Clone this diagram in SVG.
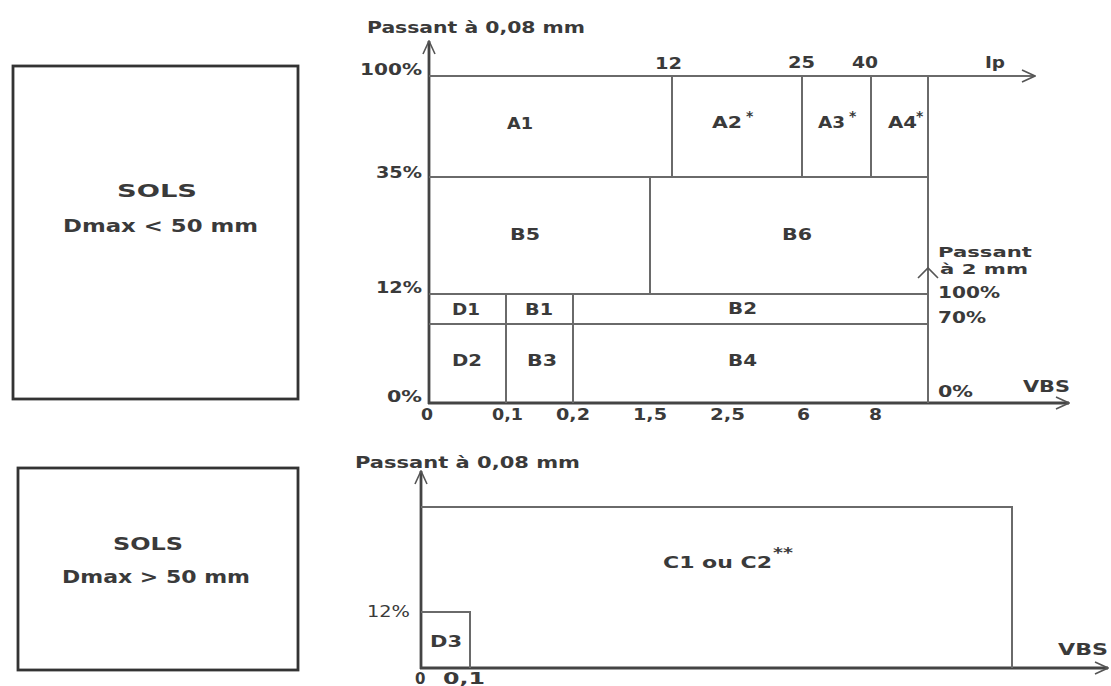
<svg xmlns="http://www.w3.org/2000/svg" width="1111" height="686" viewBox="0 0 1111 686">
<defs>
<marker id="arr" viewBox="0 0 16 16" refX="15" refY="8" markerWidth="16" markerHeight="16" markerUnits="userSpaceOnUse" orient="auto">
<polyline points="2,2 15,8 2,14" fill="none" stroke="#555" stroke-width="1.6"/>
</marker>
</defs>
<style>
text{font-family:"DejaVu Sans",Verdana,sans-serif;font-weight:bold;font-size:16px;fill:#3a3a3a}
.m{text-anchor:middle}
.st{font-size:14px}
.sm{font-size:14px}
.bt{font-size:15px}
.bx{font-size:18px}
.ax{stroke:#444;stroke-width:2.8;fill:none}
.ln{stroke:#6a6a6a;stroke-width:2;fill:none}
.box{stroke:#333;stroke-width:2.8;fill:#fff}
</style>
<rect width="1111" height="686" fill="#fff"/>

<g id="sols-lt50">
<rect class="box" x="13" y="66" width="285" height="333"/>
<text class="bx" x="117" y="197" textLength="80" lengthAdjust="spacingAndGlyphs">SOLS</text>
<text class="bx" x="63" y="232" textLength="195" lengthAdjust="spacingAndGlyphs">Dmax &lt; 50 mm</text>
</g>
<g id="sols-gt50">
<rect class="box" x="18" y="468" width="280" height="202"/>
<text class="bx" x="113" y="550" textLength="70" lengthAdjust="spacingAndGlyphs" style="font-size:17px">SOLS</text>
<text class="bx" x="62" y="583" textLength="188" lengthAdjust="spacingAndGlyphs" style="font-size:17px">Dmax &gt; 50 mm</text>
</g>

<g id="connectors">
<line class="ax" x1="429" y1="404" x2="429" y2="41" marker-end="url(#arr)"/>
<line class="ax" x1="428" y1="403" x2="1069" y2="403" marker-end="url(#arr)"/>
<line class="ln" x1="429" y1="76" x2="1035" y2="76" marker-end="url(#arr)"/>
<line class="ln" x1="928" y1="76" x2="928" y2="403"/>
<polyline points="918,278 928,268 938,278" fill="none" stroke="#555" stroke-width="1.6"/>
<line class="ax" x1="421" y1="669" x2="421" y2="471" marker-end="url(#arr)"/>
<line class="ax" x1="420" y1="668" x2="1108" y2="668" marker-end="url(#arr)"/>
</g>

<g id="top-labels">
<text x="367" y="33" textLength="218" lengthAdjust="spacingAndGlyphs">Passant à 0,08 mm</text>
<text x="360" y="75" textLength="62" lengthAdjust="spacingAndGlyphs">100%</text>
<text x="376" y="178" textLength="46" lengthAdjust="spacingAndGlyphs">35%</text>
<text x="376" y="293" textLength="46" lengthAdjust="spacingAndGlyphs">12%</text>
<text x="387" y="402" textLength="35" lengthAdjust="spacingAndGlyphs">0%</text>
<text x="655" y="69" textLength="27" lengthAdjust="spacingAndGlyphs">12</text>
<text x="788" y="68" textLength="27" lengthAdjust="spacingAndGlyphs">25</text>
<text x="852" y="68" textLength="26" lengthAdjust="spacingAndGlyphs">40</text>
<text x="985" y="68" textLength="20" lengthAdjust="spacingAndGlyphs">Ip</text>
<text class="sm" x="938" y="257" textLength="94" lengthAdjust="spacingAndGlyphs">Passant</text>
<text class="sm" x="940" y="274" textLength="88" lengthAdjust="spacingAndGlyphs">à 2 mm</text>
<text x="938" y="298" textLength="62" lengthAdjust="spacingAndGlyphs">100%</text>
<text x="938" y="323" textLength="48" lengthAdjust="spacingAndGlyphs">70%</text>
<text x="938" y="397" textLength="35" lengthAdjust="spacingAndGlyphs">0%</text>
<text x="1023" y="392" textLength="47" lengthAdjust="spacingAndGlyphs">VBS</text>
<text x="421" y="420" textLength="12" lengthAdjust="spacingAndGlyphs">0</text>
<text x="492" y="420" textLength="31" lengthAdjust="spacingAndGlyphs">0,1</text>
<text x="556" y="420" textLength="34" lengthAdjust="spacingAndGlyphs">0,2</text>
<text x="633" y="420" textLength="34" lengthAdjust="spacingAndGlyphs">1,5</text>
<text x="710" y="420" textLength="35" lengthAdjust="spacingAndGlyphs">2,5</text>
<text x="797" y="420" textLength="13" lengthAdjust="spacingAndGlyphs">6</text>
<text x="869" y="420" textLength="13" lengthAdjust="spacingAndGlyphs">8</text>
</g>

<g id="A1"><line class="ln" x1="429" y1="177" x2="672" y2="177"/><text x="507" y="129" textLength="26" lengthAdjust="spacingAndGlyphs">A1</text></g>
<g id="A2"><line class="ln" x1="672" y1="76" x2="672" y2="177"/><line class="ln" x1="672" y1="177" x2="802" y2="177"/><text x="712" y="128" textLength="30" lengthAdjust="spacingAndGlyphs">A2</text><text class="st" x="746" y="121">*</text></g>
<g id="A3"><line class="ln" x1="802" y1="76" x2="802" y2="177"/><line class="ln" x1="802" y1="177" x2="871" y2="177"/><text x="818" y="128" textLength="27" lengthAdjust="spacingAndGlyphs">A3</text><text class="st" x="849" y="121">*</text></g>
<g id="A4"><line class="ln" x1="871" y1="76" x2="871" y2="177"/><line class="ln" x1="871" y1="177" x2="928" y2="177"/><text x="888" y="128" textLength="29" lengthAdjust="spacingAndGlyphs">A4</text><text class="st" x="916" y="121">*</text></g>
<g id="B5"><line class="ln" x1="429" y1="294" x2="650" y2="294"/><text x="510" y="240" textLength="30" lengthAdjust="spacingAndGlyphs">B5</text></g>
<g id="B6"><line class="ln" x1="650" y1="177" x2="650" y2="294"/><line class="ln" x1="650" y1="294" x2="928" y2="294"/><text x="782" y="240" textLength="30" lengthAdjust="spacingAndGlyphs">B6</text></g>
<g id="D1"><line class="ln" x1="429" y1="324" x2="506" y2="324"/><text x="452" y="315" textLength="28" lengthAdjust="spacingAndGlyphs">D1</text></g>
<g id="B1"><line class="ln" x1="506" y1="294" x2="506" y2="403"/><line class="ln" x1="506" y1="324" x2="573" y2="324"/><text x="525" y="315" textLength="28" lengthAdjust="spacingAndGlyphs">B1</text></g>
<g id="B2"><line class="ln" x1="573" y1="294" x2="573" y2="403"/><line class="ln" x1="573" y1="324" x2="928" y2="324"/><text x="728" y="314" textLength="29" lengthAdjust="spacingAndGlyphs">B2</text></g>
<g id="D2"><text x="452" y="366" textLength="30" lengthAdjust="spacingAndGlyphs">D2</text></g>
<g id="B3"><text x="527" y="366" textLength="30" lengthAdjust="spacingAndGlyphs">B3</text></g>
<g id="B4"><text x="728" y="366" textLength="29" lengthAdjust="spacingAndGlyphs">B4</text></g>

<g id="bottom-labels">
<text x="355" y="468" textLength="225" lengthAdjust="spacingAndGlyphs">Passant à 0,08 mm</text>
<text x="367" y="617" textLength="43" lengthAdjust="spacingAndGlyphs" style="font-weight:normal">12%</text>
<text x="1058" y="655" textLength="50" lengthAdjust="spacingAndGlyphs">VBS</text>
<text class="bt" x="415" y="684">0</text>
<text class="bt" x="443" y="684" textLength="42" lengthAdjust="spacingAndGlyphs">0,1</text>
</g>
<g id="C1C2"><polyline class="ln" points="421,507 1012,507 1012,668"/><text x="663" y="568" textLength="109" lengthAdjust="spacingAndGlyphs">C1 ou C2</text><text class="st" x="773" y="557" textLength="20" lengthAdjust="spacingAndGlyphs">**</text></g>
<g id="D3"><polyline class="ln" points="421,612 470,612 470,668"/><text x="430" y="647" textLength="32" lengthAdjust="spacingAndGlyphs">D3</text></g>
</svg>
